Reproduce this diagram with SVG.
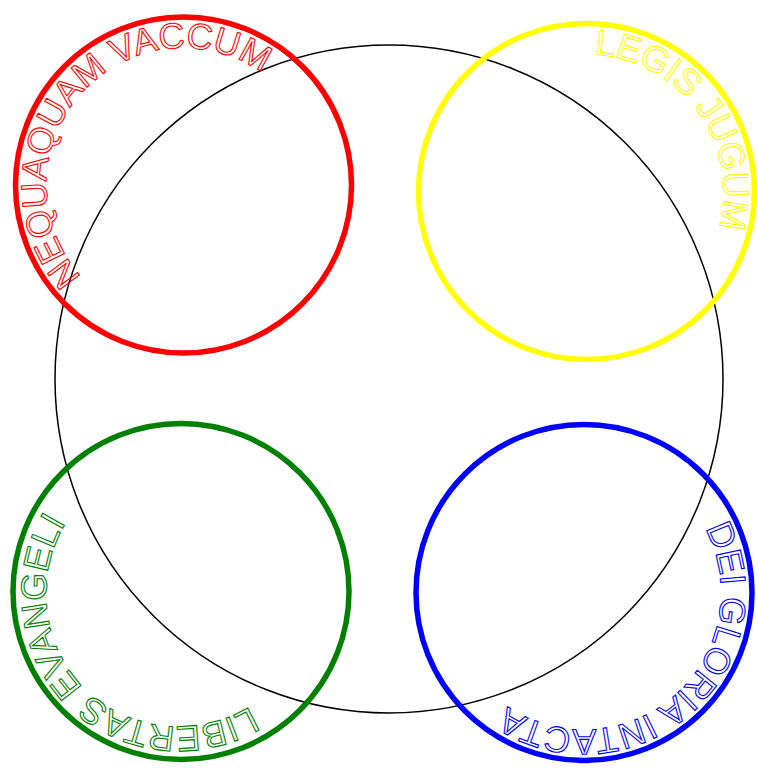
<svg xmlns="http://www.w3.org/2000/svg" xmlns:xlink="http://www.w3.org/1999/xlink" width="757" height="769" viewBox="0 0 757 769">
  <style>
    .ring { fill: none; stroke-width: 5.5; }
    .lbl { font-family: "Liberation Sans", Arial, sans-serif; font-size: 36px; fill: none; stroke-width: 1.1; }
  </style>
  <defs>
    <path id="pRed" d="M286.1,275.8 A137,137 0 0 1 80.9,94.2 A137,137 0 0 1 286.1,275.8"/>
    <path id="pYellow" d="M475.2,271.4 A137,137 0 0 1 697.8,111.6 A137,137 0 0 1 475.2,271.4"/>
    <path id="pGreen" d="M277.7,494.5 A137,137 0 0 1 84.3,688.5 A137,137 0 0 1 277.7,494.5"/>
    <path id="pBlue" d="M492.3,490.7 A137,137 0 0 1 675.7,694.3 A137,137 0 0 1 492.3,490.7"/>
  </defs>
  <rect width="757" height="769" fill="#ffffff"/>
  <g id="big-circle">
    <circle cx="389" cy="379" r="334" fill="none" stroke="#000000" stroke-width="1.5"/>
  </g>
  <g id="red">
    <circle class="ring" cx="183.5" cy="185" r="168" stroke="#ff0000"/>
    <text class="lbl" stroke="#ff0000" text-anchor="middle"><textPath xlink:href="#pRed" href="#pRed" startOffset="50%">NEQUAQUAM VACCUM</textPath></text>
  </g>
  <g id="yellow">
    <circle class="ring" cx="586.5" cy="191.5" r="168" stroke="#ffff00"/>
    <text class="lbl" stroke="#ffff00" text-anchor="middle"><textPath xlink:href="#pYellow" href="#pYellow" startOffset="50%">LEGIS JUGUM</textPath></text>
  </g>
  <g id="green">
    <circle class="ring" cx="181" cy="591.5" r="168" stroke="#008000"/>
    <text class="lbl" stroke="#008000" text-anchor="middle"><textPath xlink:href="#pGreen" href="#pGreen" startOffset="50%">LIBERTAS EVANGELI</textPath></text>
  </g>
  <g id="blue">
    <circle class="ring" cx="584" cy="592.5" r="168" stroke="#0000ff"/>
    <text class="lbl" stroke="#0000ff" text-anchor="middle"><textPath xlink:href="#pBlue" href="#pBlue" startOffset="50%">DEI GLORIA INTACTA</textPath></text>
  </g>
  <g id="connectors"/>
</svg>
